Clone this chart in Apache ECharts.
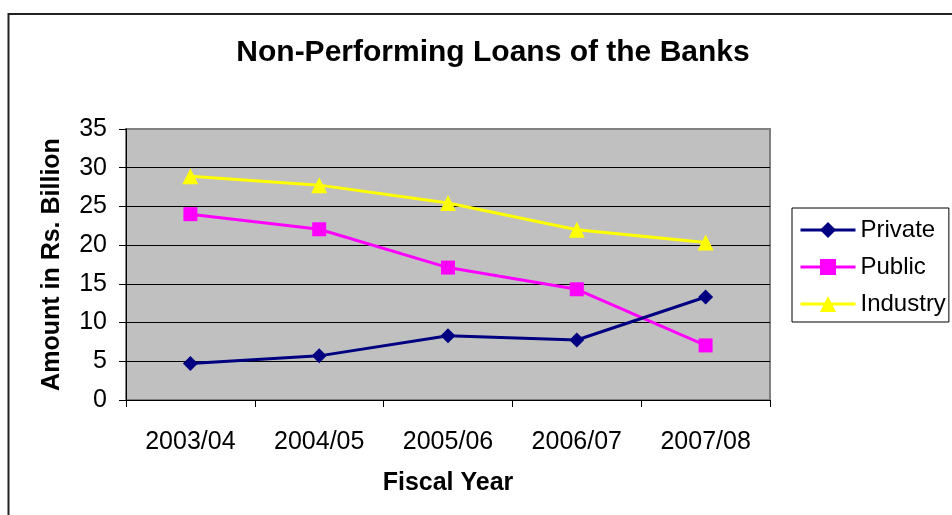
<!DOCTYPE html>
<html>
<head>
<meta charset="utf-8">
<script src="https://cdn.jsdelivr.net/npm/echarts@6/dist/echarts.min.js"></script>
<style>
  html, body { margin: 0; padding: 0; background: #ffffff; }
  #chart { width: 952px; height: 515px; }
</style>
</head>
<body>
<div id="chart"></div>
<script>
// Fiscal years on the horizontal axis
const fiscalYears = ['2003/04', '2004/05', '2005/06', '2006/07', '2007/08'];

// Non-performing loans, Rs. billion
const privateBanks = [4.7, 5.7, 8.3, 7.75, 13.3];
const publicBanks = [24.0, 22.05, 17.1, 14.3, 7.05];
const industryTotal = [28.9, 27.75, 25.45, 22.0, 20.35];

const seriesNames = ['Private', 'Public', 'Industry'];

const font = '"Liberation Sans", Arial, sans-serif';

const chart = echarts.init(document.getElementById('chart'), null, { renderer: 'canvas' });

chart.setOption({
  animation: false,
  backgroundColor: '#ffffff',
  title: {
    text: 'Non-Performing Loans of the Banks',
    left: 488,
    top: 33,
    textAlign: 'center',
    textStyle: { fontFamily: font, fontSize: 30, fontWeight: 'bold', color: '#000000' }
  },
  graphic: [{
    type: 'rect',
    shape: { x: 8.5, y: 14, width: 1000, height: 600 },
    style: { fill: 'none', stroke: '#222222', lineWidth: 2 },
    silent: true,
    z: -1
  }],
  legend: {
    orient: 'vertical',
    left: 792,
    top: 208,
    padding: [10, 3, 6, 7],
    itemGap: 13,
    itemWidth: 55,
    itemHeight: 20,
    borderColor: '#000000',
    borderWidth: 1,
    backgroundColor: '#ffffff',
    data: seriesNames,
    lineStyle: { width: 3 },
    textStyle: { fontFamily: font, fontSize: 24, color: '#000000', padding: [0, 0, 0, 0] }
  },
  grid: {
    left: 126,
    right: 182,
    top: 129,
    bottom: 115,
    show: true,
    backgroundColor: '#C0C0C0',
    borderColor: '#808080',
    borderWidth: 2
  },
  xAxis: {
    type: 'category',
    data: fiscalYears,
    boundaryGap: true,
    name: 'Fiscal Year',
    nameLocation: 'middle',
    nameGap: 71,
    nameTextStyle: { fontFamily: font, fontSize: 25, fontWeight: 'bold', color: '#000000' },
    axisLine: { lineStyle: { color: '#000000', width: 1 } },
    axisTick: { show: true, length: 7, lineStyle: { color: '#000000' } },
    axisLabel: { fontFamily: font, fontSize: 25, color: '#000000', margin: 30 },
    splitLine: { show: false }
  },
  yAxis: {
    type: 'value',
    min: 0,
    max: 35,
    interval: 5,
    name: 'Amount in Rs. Billion',
    nameLocation: 'middle',
    nameGap: 61,
    nameTextStyle: { fontFamily: font, fontSize: 25, fontWeight: 'bold', color: '#000000' },
    axisLine: { show: true, lineStyle: { color: '#000000', width: 1 } },
    axisTick: { show: true, length: 7, lineStyle: { color: '#000000' } },
    axisLabel: { fontFamily: font, fontSize: 25, color: '#000000', margin: 19 },
    splitLine: { show: true, showMinLine: false, showMaxLine: false, lineStyle: { color: '#000000', width: 1 } }
  },
  series: [
    {
      name: 'Private',
      type: 'line',
      data: privateBanks,
      symbol: 'diamond',
      symbolSize: 15,
      itemStyle: { color: '#000080' },
      lineStyle: { color: '#000080', width: 3 },
      z: 4
    },
    {
      name: 'Public',
      type: 'line',
      data: publicBanks,
      symbol: 'rect',
      symbolSize: 14,
      itemStyle: { color: '#FF00FF' },
      lineStyle: { color: '#FF00FF', width: 3 },
      z: 3
    },
    {
      name: 'Industry',
      type: 'line',
      data: industryTotal,
      symbol: 'triangle',
      symbolSize: 16,
      itemStyle: { color: '#FFFF00' },
      lineStyle: { color: '#FFFF00', width: 3 },
      z: 2
    }
  ]
});
</script>
</body>
</html>
